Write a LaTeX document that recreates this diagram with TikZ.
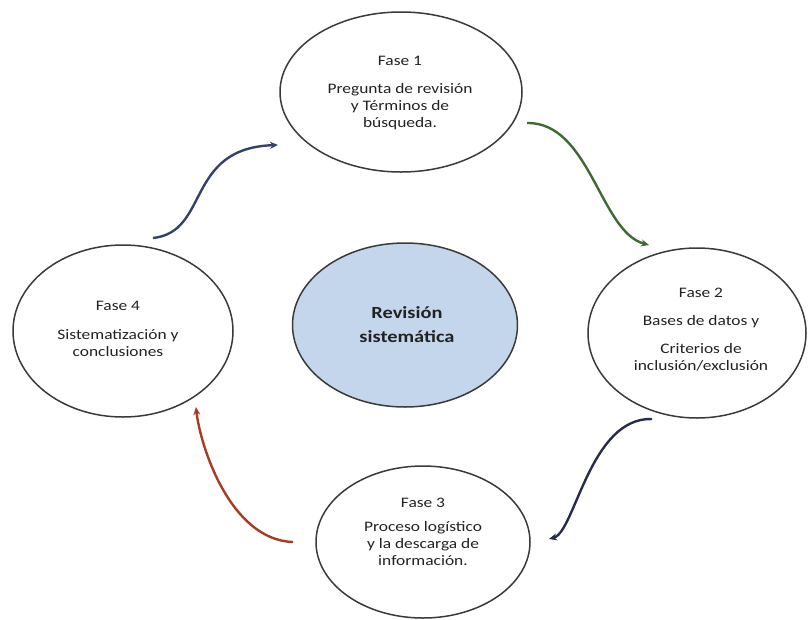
\documentclass[tikz,border=0pt]{standalone}
\usepackage{fontspec}
\setmainfont{Carlito}[FakeStretch=1.2]
\usetikzlibrary{shapes.geometric,arrows.meta}
\definecolor{edgegray}{HTML}{3A3A3A}
\definecolor{centerfill}{HTML}{C3D6EC}
\definecolor{arrA}{HTML}{34416E}
\definecolor{arrB}{HTML}{3D6A30}
\definecolor{arrC}{HTML}{262C4C}
\definecolor{arrD}{HTML}{A63C22}
\definecolor{txtc}{HTML}{222222}
\tikzset{
  phase/.style={ellipse, draw=edgegray, line width=1.5pt, inner sep=0pt},
  txt/.style={align=center, text=txtc, inner sep=0pt, font=\fontsize{14.5}{17}\selectfont},
  ctxt/.style={align=center, text=txtc, inner sep=0pt, font=\bfseries\fontsize{17}{24}\selectfont},
  flow/.style={line width=2.4pt, -{Stealth[length=8pt,width=7pt]}}
}
\begin{document}
\begin{tikzpicture}[x=1pt,y=-1pt]
\useasboundingbox (0,0) rectangle (808,619);
% ellipses
\node[phase, minimum width=242pt, minimum height=160pt] (f1) at (401,92) {};
\node[phase, minimum width=218pt, minimum height=170pt] (f2) at (697,333) {};
\node[phase, minimum width=220pt, minimum height=172pt] (f4) at (123,331) {};
\node[phase, fill=centerfill, minimum width=225pt, minimum height=164pt] (rs) at (405,325) {};
\node[phase, minimum width=214pt, minimum height=152pt] (f3) at (423,542) {};
% texts
\node[txt] (t1) at (400,93) {Fase 1\\[11pt]Pregunta de revisión\\y Términos de\\búsqueda.};
\node[txt] (t2) at (701,330) {Fase 2\\[11pt]Bases de datos y\\[11pt]Criterios de\\inclusión/exclusión};
\node[txt] (t4) at (118,329) {Fase 4\\[12pt]Sistematización y\\conclusiones};
\node[txt] (t3) at (423,532) {Fase 3\\[7pt]Proceso logístico\\y la descarga de\\información.};
\node[ctxt] (tc) at (407,325) {Revisión\\sistemática};
% arrow end points
\coordinate (a1s) at (153,238);
\coordinate (a1e) at (278,145);
\coordinate (a2s) at (527,123);
\coordinate (a2e) at (649,245);
\coordinate (a3s) at (652,419);
\coordinate (a3e) at (549,539);
\coordinate (a4s) at (293,542);
\coordinate (a4e) at (196,407);
% arrows
\draw[flow, draw=arrA] (a1s) .. controls (210,232) and (185,148) .. (a1e);
\draw[flow, draw=arrB] (a2s) .. controls (590,122) and (600,232) .. (a2e);
\draw[flow, draw=arrC] (a3s) .. controls (590,417) and (575,532) .. (a3e);
\draw[flow, draw=arrD] (a4s) .. controls (230,540) and (200,445) .. (a4e);
\end{tikzpicture}
\end{document}
